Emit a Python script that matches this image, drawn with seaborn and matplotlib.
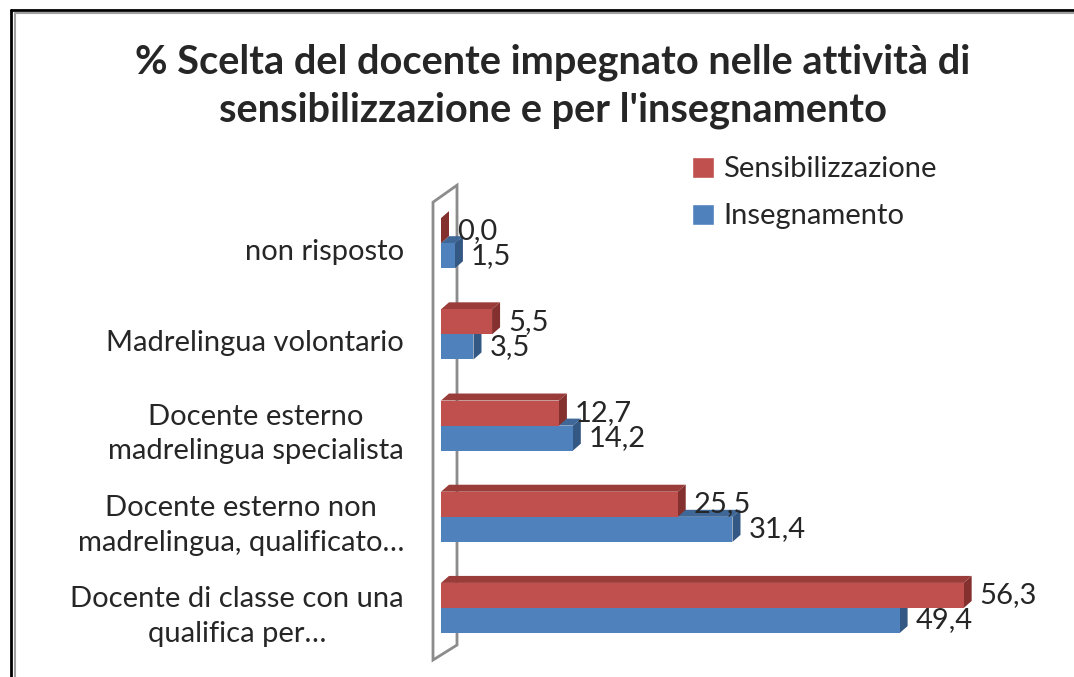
import matplotlib
matplotlib.use("Agg")
import matplotlib.pyplot as plt
from matplotlib.patches import Polygon, Patch
from matplotlib.lines import Line2D
from matplotlib.transforms import IdentityTransform
import pandas as pd
import seaborn as sns

categories = [
    "non risposto",
    "Madrelingua volontario",
    "Docente esterno\nmadrelingua specialista",
    "Docente esterno non\nmadrelingua, qualificato…",
    "Docente di classe con una\nqualifica per…",
]
sensibilizzazione = [0.0, 5.5, 12.7, 25.5, 56.3]
insegnamento = [1.5, 3.5, 14.2, 31.4, 49.4]
series = ["Sensibilizzazione", "Insegnamento"]

colors = {"Sensibilizzazione": "#C0504D", "Insegnamento": "#4F81BD"}
top_col = {"Sensibilizzazione": "#9A3D3A", "Insegnamento": "#3F6898"}
side_col = {"Sensibilizzazione": "#83302E", "Insegnamento": "#345884"}

df = pd.DataFrame({"categoria": categories,
                   "Sensibilizzazione": sensibilizzazione,
                   "Insegnamento": insegnamento})
long = df.melt(id_vars="categoria", var_name="serie", value_name="valore")

sns.set_style("white")
plt.rcParams["font.family"] = ["Lato", "DejaVu Sans"]

W, H = 1074, 677
fig = plt.figure(figsize=(W / 100, H / 100), dpi=100)
ax = fig.add_axes([441 / W, (H - 653.6) / H, 557 / W, 456 / H])

sns.barplot(data=long, y="categoria", x="valore", hue="serie", hue_order=series,
            order=categories, palette=colors, orient="h", width=0.55, gap=0,
            saturation=1, legend=False, ax=ax, zorder=2, linewidth=0)
ax.set_xlim(0, 60)
ax.set_ylim(4.5, -0.5)
ax.set_xlabel("")
ax.set_ylabel("")
ax.set_xticks([])
ax.set_yticks([])
sns.despine(ax=ax, left=True, bottom=True)
ax.patch.set_alpha(0)

# 3D depth faces
dx, dy = 8, 7
for name, cont in zip(series, ax.containers):
    for rect in cont:
        rect.set_edgecolor("none")
        x0, y0 = rect.get_x(), rect.get_y()
        w, h = rect.get_width(), rect.get_height()
        lt = ax.transData.transform((x0, y0))
        rt = ax.transData.transform((x0 + w, y0))
        rb = ax.transData.transform((x0 + w, y0 + h))
        top = [lt, rt, (rt[0] + dx, rt[1] + dy), (lt[0] + dx, lt[1] + dy)]
        side = [rt, rb, (rb[0] + dx, rb[1] + dy), (rt[0] + dx, rt[1] + dy)]
        z = 1.2 if name == "Sensibilizzazione" else 1.1
        ax.add_patch(Polygon(top, closed=True, facecolor=top_col[name], edgecolor="none",
                             transform=IdentityTransform(), zorder=z, clip_on=False))
        ax.add_patch(Polygon(side, closed=True, facecolor=side_col[name], edgecolor="none",
                             transform=IdentityTransform(), zorder=z, clip_on=False))

# side wall outline
bb = ax.get_window_extent()
xl = bb.x0 - 8
wall = [(xl, bb.y0 - 6.4), (xl, bb.y1 - 4.6), (xl + 24, bb.y1 + 12.4), (xl + 24, bb.y0 + 8.6)]
ax.add_patch(Polygon(wall, closed=True, facecolor="white", edgecolor="#8C8C8C", lw=2,
                     transform=IdentityTransform(), zorder=0.5, clip_on=False))

# category labels
for i, cat in enumerate(categories):
    ax.annotate(cat, xy=(0, i), xycoords=("axes fraction", "data"),
                xytext=(-26.6, -6.2), textcoords="offset points",
                ha="right", va="center", multialignment="center",
                fontsize=21, linespacing=1.4)

# value labels
for cont, vals in zip(ax.containers, [sensibilizzazione, insegnamento]):
    ax.bar_label(cont, labels=[f"{v:.1f}".replace(".", ",") for v in vals],
                 padding=11.5, fontsize=21)

fig.text(553 / W, 1 - 86 / H,
         "% Scelta del docente impegnato nelle attività di\nsensibilizzazione e per l'insegnamento",
         ha="center", va="center", fontsize=28.6, fontweight="bold", linespacing=1.36)

handles = [Patch(facecolor=colors[s]) for s in series]
fig.legend(handles, series, loc="upper left", bbox_to_anchor=(672 / W, 1 - 136 / H),
           frameon=False, fontsize=21, handlelength=0.75, handleheight=0.75,
           handletextpad=0.3, labelspacing=0.72, borderpad=0.2)

# frame lines top and left
fig.add_artist(Line2D([11 / W, 11 / W], [0, 1 - 10 / H], color="black", lw=2))
fig.add_artist(Line2D([11 / W, 1], [1 - 10 / H, 1 - 10 / H], color="black", lw=2))
fig.add_artist(Line2D([14.5 / W, 14.5 / W], [0, 1 - 13 / H], color="#A0A0A0", lw=1.5))
fig.add_artist(Line2D([14.5 / W, 1], [1 - 13 / H, 1 - 13 / H], color="#A0A0A0", lw=1.5))

fig.savefig("out.png", dpi=100)
